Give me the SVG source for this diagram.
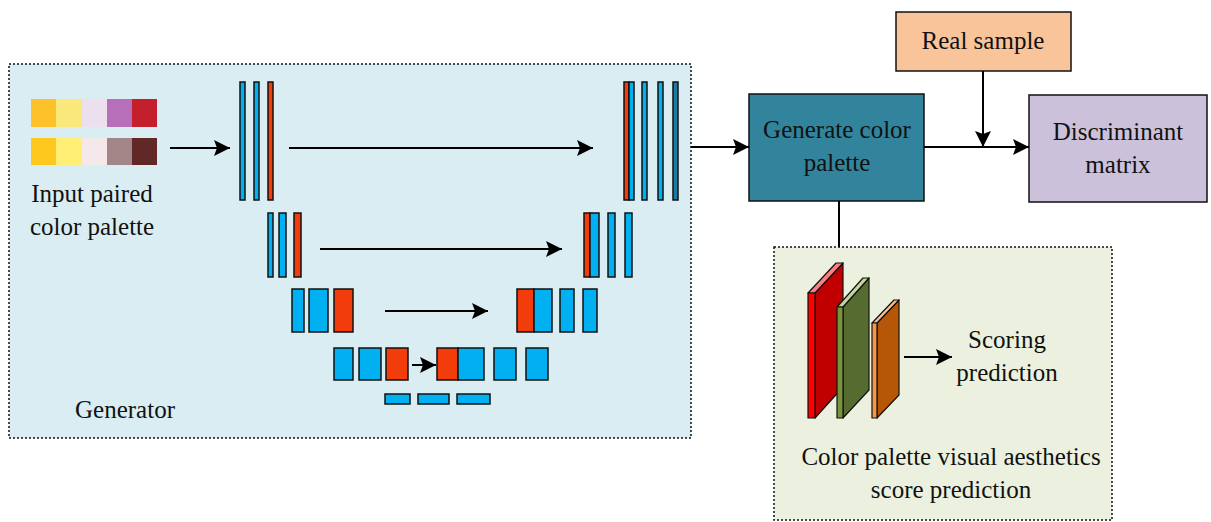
<svg xmlns="http://www.w3.org/2000/svg" width="1211" height="522" viewBox="0 0 1211 522">
<style>
text{font-family:"Liberation Serif","Times New Roman",serif;font-size:25px;fill:#111;text-anchor:middle}
.dash{stroke:#111;stroke-width:1.5;stroke-dasharray:2 2}
.b{fill:#00B0F0;stroke:#111;stroke-width:1.5}
.o{fill:#F33C0C;stroke:#111;stroke-width:1.5}
.d{fill:#1A7BA3;stroke:#111;stroke-width:1.5}
.ln{stroke:#000;stroke-width:2;fill:none}
.box{stroke:#111;stroke-width:1.5}
.cube{stroke:#111;stroke-width:1.2;stroke-linejoin:round}
</style>
<defs>
<marker id="ahL" viewBox="0 0 16 16" refX="16" refY="8" markerWidth="16" markerHeight="16" markerUnits="userSpaceOnUse" orient="auto">
<path d="M0,0 L16,8 L0,16 L3,8 Z" fill="#000"/>
</marker>
</defs>
<rect width="1211" height="522" fill="#fff"/>

<g id="generator">
<rect x="9" y="64" width="682" height="374" fill="#DAEDF3" class="dash"/>
<text x="125" y="418">Generator</text>
</g>

<g id="input-palette">
<rect x="31" y="99" width="26" height="28" fill="#FDC22A"/>
<rect x="56" y="99" width="26" height="28" fill="#FBE87A"/>
<rect x="82" y="99" width="26" height="28" fill="#EDE0EE"/>
<rect x="107" y="99" width="26" height="28" fill="#B86FBA"/>
<rect x="132" y="99" width="25" height="28" fill="#C41F2D"/>
<rect x="31" y="138" width="26" height="27" fill="#FFC81E"/>
<rect x="56" y="138" width="26" height="27" fill="#FFF075"/>
<rect x="82" y="138" width="26" height="27" fill="#F4E8EA"/>
<rect x="107" y="138" width="26" height="27" fill="#A58688"/>
<rect x="132" y="138" width="25" height="27" fill="#612827"/>
<text x="92" y="202">Input paired</text>
<text x="92" y="235">color palette</text>
</g>

<g id="encoder-1">
<rect class="b" x="240" y="82" width="5" height="118"/>
<rect class="b" x="254" y="82" width="5" height="118"/>
<rect class="o" x="268" y="82" width="5" height="118"/>
</g>
<g id="encoder-2">
<rect class="b" x="268" y="213" width="5" height="64"/>
<rect class="b" x="279" y="213" width="7" height="64"/>
<rect class="o" x="294" y="213" width="7" height="64"/>
</g>
<g id="encoder-3">
<rect class="b" x="292" y="289" width="12" height="43"/>
<rect class="b" x="309" y="289" width="19" height="43"/>
<rect class="o" x="334" y="289" width="19" height="43"/>
</g>
<g id="encoder-4">
<rect class="b" x="334" y="348" width="19" height="32"/>
<rect class="b" x="359" y="348" width="22" height="32"/>
<rect class="o" x="386" y="348" width="22" height="32"/>
</g>
<g id="bottleneck">
<rect class="b" x="385" y="394" width="25" height="10"/>
<rect class="b" x="418" y="394" width="31" height="10"/>
<rect class="b" x="457" y="394" width="33" height="10"/>
</g>
<g id="decoder-4">
<rect class="o" x="437" y="348" width="21" height="32"/>
<rect class="b" x="458" y="348" width="26" height="32"/>
<rect class="b" x="494" y="348" width="22" height="32"/>
<rect class="b" x="526" y="348" width="22" height="32"/>
</g>
<g id="decoder-3">
<rect class="o" x="517" y="289" width="17" height="43"/>
<rect class="b" x="534" y="289" width="18" height="43"/>
<rect class="b" x="560" y="289" width="14" height="43"/>
<rect class="b" x="583" y="289" width="14" height="43"/>
</g>
<g id="decoder-2">
<rect class="o" x="584" y="213" width="6" height="64"/>
<rect class="b" x="590" y="213" width="9" height="64"/>
<rect class="b" x="608" y="213" width="7" height="64"/>
<rect class="b" x="625" y="213" width="7" height="64"/>
</g>
<g id="decoder-1">
<rect class="o" x="624" y="82" width="5" height="118"/>
<rect class="b" x="629" y="82" width="5" height="118"/>
<rect class="b" x="642" y="82" width="5" height="118"/>
<rect class="b" x="658" y="82" width="5" height="118"/>
<rect class="d" x="673" y="82" width="5" height="118"/>
</g>

<g id="real-sample">
<rect class="box" x="896" y="12" width="175" height="59" fill="#F9C49A"/>
<text x="983" y="49">Real sample</text>
</g>
<g id="generate-color-palette">
<rect class="box" x="749" y="94" width="175" height="107" fill="#31849B"/>
<text x="837" y="138">Generate color</text>
<text x="837" y="171">palette</text>
</g>
<g id="discriminant-matrix">
<rect class="box" x="1029" y="95" width="178" height="107" fill="#CCC1DA"/>
<text x="1118" y="140">Discriminant</text>
<text x="1118" y="173">matrix</text>
</g>

<g id="aesthetics">
<rect x="774" y="247" width="338" height="273" fill="#EBF1DE" class="dash"/>
<polygon class="cube" points="815,293 843,263 843,387 815,418" fill="#C00000"/>
<polygon class="cube" points="808,293 815,293 843,263 836,263" fill="#FF7C80"/>
<rect class="cube" x="808" y="293" width="7" height="125" fill="#FF0000"/>
<polygon class="cube" points="843,307 869,278 869,390 843,418" fill="#556B2F"/>
<polygon class="cube" points="837,307 843,307 869,278 863,278" fill="#C3D69B"/>
<rect class="cube" x="837" y="307" width="6" height="111" fill="#77933C"/>
<polygon class="cube" points="877,323 899,300 899,395 877,418" fill="#B65708"/>
<polygon class="cube" points="872,323 877,323 899,300 894,300" fill="#FAC090"/>
<rect class="cube" x="872" y="323" width="5" height="95" fill="#F79646"/>
<text x="1007" y="348">Scoring</text>
<text x="1007" y="381">prediction</text>
<text x="951" y="465">Color palette visual aesthetics</text>
<text x="951" y="498">score prediction</text>
</g>

<g id="connectors">
<line class="ln" x1="170" y1="148" x2="230" y2="148" marker-end="url(#ahL)"/>
<line class="ln" x1="289" y1="148" x2="593" y2="148" marker-end="url(#ahL)"/>
<line class="ln" x1="320" y1="249" x2="562" y2="249" marker-end="url(#ahL)"/>
<line class="ln" x1="385" y1="311" x2="488" y2="311" marker-end="url(#ahL)"/>
<line class="ln" x1="412" y1="365" x2="436" y2="365" marker-end="url(#ahL)"/>
<line class="ln" x1="691" y1="147" x2="749" y2="147" marker-end="url(#ahL)"/>
<line class="ln" x1="924" y1="147" x2="1029" y2="147" marker-end="url(#ahL)"/>
<line class="ln" x1="983" y1="71" x2="983" y2="147" marker-end="url(#ahL)"/>
<line class="ln" x1="839" y1="201" x2="839" y2="247"/>
<line class="ln" x1="904" y1="357" x2="952" y2="357" marker-end="url(#ahL)"/>
</g>
</svg>
